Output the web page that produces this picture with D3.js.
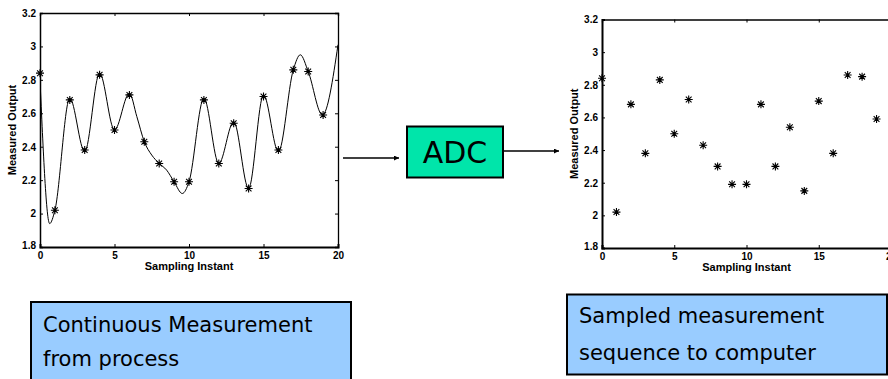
<!DOCTYPE html>
<html>
<head>
<meta charset="utf-8">
<script src="https://cdn.jsdelivr.net/npm/d3@7"></script>
<style>
  html, body { margin: 0; padding: 0; background: #fff; }
  svg { display: block; }
</style>
</head>
<body>
<svg id="fig" width="888" height="379"></svg>
<script>
// Sampled measurements, one per sampling instant
const sampleInstants = [0, 1, 2, 3, 4, 5, 6, 7, 8, 9, 10, 11, 12, 13, 14, 15, 16, 17, 18, 19];
const sampleValues = [2.84, 2.02, 2.68, 2.38, 2.83, 2.50, 2.71, 2.43, 2.30, 2.19,
                      2.19, 2.68, 2.30, 2.54, 2.15, 2.70, 2.38, 2.86, 2.85, 2.59];

// Continuous process output (knots of the smooth trace, incl. turning points)
const traceTimes = [0, 0.65, 1, 2, 3, 4, 5, 6, 6.5, 7, 7.5, 8, 8.5, 9, 9.55, 10,
                    11, 12, 13, 14, 15, 16, 17, 17.47, 18, 18.95, 20];
const traceValues = [2.80, 1.94, 2.02, 2.69, 2.37, 2.84, 2.50, 2.72, 2.58, 2.43, 2.35, 2.30, 2.26, 2.19, 2.12, 2.19,
                     2.69, 2.30, 2.55, 2.15, 2.71, 2.37, 2.86, 2.95, 2.85, 2.59, 3.01];

const xTicks = [0, 5, 10, 15, 20];
const yTicks = [1.8, 2, 2.2, 2.4, 2.6, 2.8, 3, 3.2];

const xLabel = "Sampling Instant";
const yLabel = "Measured Output";
const blockLabel = "ADC";
const leftCaption = ["Continuous Measurement", "from process"];
const rightCaption = ["Sampled measurement", "sequence to computer"];

const svg = d3.select("#fig");
const handFont = "'DejaVu Sans', sans-serif";
const axisFont = "'Liberation Sans', Arial, sans-serif";

// Asterisk marker (plus + cross)
function star(g, cx, cy, r) {
  const d = r * 0.72;
  const p = d3.path();
  p.moveTo(cx - r, cy); p.lineTo(cx + r, cy);
  p.moveTo(cx, cy - r); p.lineTo(cx, cy + r);
  p.moveTo(cx - d, cy - d); p.lineTo(cx + d, cy + d);
  p.moveTo(cx - d, cy + d); p.lineTo(cx + d, cy - d);
  g.append("path").attr("d", p.toString()).attr("stroke", "#000")
    .attr("stroke-width", 1.1).attr("fill", "none");
}

function panel(cfg) {
  const g = svg.append("g");
  const x = d3.scaleLinear().domain([0, 20]).range([cfg.x0, cfg.x1]);
  const y = d3.scaleLinear().domain([1.8, 3.2]).range([cfg.y1, cfg.y0]);

  const clip = "clip" + cfg.id;
  g.append("clipPath").attr("id", clip).append("rect")
    .attr("x", cfg.x0).attr("y", cfg.y0).attr("width", cfg.x1 - cfg.x0).attr("height", cfg.y1 - cfg.y0);

  // Ticks on all four sides, pointing inward
  const axB = d3.axisBottom(x).tickValues(xTicks).tickSize(-3).tickPadding(4).tickFormat(d3.format("d"));
  const axT = d3.axisTop(x).tickValues(xTicks).tickSize(-3).tickFormat("");
  const axL = d3.axisLeft(y).tickValues(yTicks).tickSize(-3).tickPadding(4).tickFormat(d => d3.format("")(+d.toFixed(1)));
  const axR = d3.axisRight(y).tickValues(yTicks).tickSize(-3).tickFormat("");

  const gb = g.append("g").attr("transform", `translate(0,${cfg.y1})`).call(axB);
  const gt = g.append("g").attr("transform", `translate(0,${cfg.y0})`).call(axT);
  const gl = g.append("g").attr("transform", `translate(${cfg.x0},0)`).call(axL);
  const gr = g.append("g").attr("transform", `translate(${cfg.x1},0)`).call(axR);

  [gb, gt, gl, gr].forEach(a => {
    a.selectAll(".tick line").attr("stroke", "#000").attr("stroke-width", 1);
    a.selectAll("text").attr("font-family", axisFont).attr("font-weight", "bold")
      .attr("font-size", 10).attr("fill", "#000");
  });
  gb.select(".domain").attr("stroke-width", cfg.bottomW).attr("stroke", "#000");
  gl.select(".domain").attr("stroke-width", cfg.leftW).attr("stroke", "#000");
  gt.select(".domain").attr("stroke-width", 1.3).attr("stroke", "#000");
  gr.select(".domain").attr("stroke-width", 1.3).attr("stroke", "#000");
  gb.selectAll(".tick text").attr("dy", "0.71em").attr("y", 5);
  gl.selectAll(".tick text").attr("x", -4).attr("dy", "0.34em");
  // y tick labels hug the axis at the bottom-left corner, as MATLAB does
  gl.selectAll(".tick").filter(d => d === 1.8).select("text").attr("dy", "0.1em");

  g.append("text").attr("x", (cfg.x0 + cfg.x1) / 2).attr("y", cfg.y1 + 23)
    .attr("text-anchor", "middle").attr("font-family", axisFont).attr("font-weight", "bold")
    .attr("font-size", 11).text(xLabel);
  g.append("text").attr("transform", `translate(${cfg.x0 - 24},${(cfg.y0 + cfg.y1) / 2}) rotate(-90)`)
    .attr("text-anchor", "middle").attr("font-family", axisFont).attr("font-weight", "bold")
    .attr("font-size", 11).text(yLabel);

  const plot = g.append("g").attr("clip-path", `url(#${clip})`);
  if (cfg.trace) {
    const line = d3.line().x((d, i) => x(traceTimes[i])).y(d => y(d)).curve(d3.curveMonotoneX);
    plot.append("path").attr("d", line(traceValues)).attr("fill", "none")
      .attr("stroke", "#000").attr("stroke-width", 1);
  }
  const mk = g.append("g");
  sampleInstants.forEach((t, i) => star(mk, x(t), y(sampleValues[i]), 4));
  return g;
}

panel({ id: "L", x0: 40, x1: 338, y0: 13, y1: 247, trace: true, bottomW: 2, leftW: 1.5 });
panel({ id: "R", x0: 602, x1: 891, y0: 19.5, y1: 248, trace: false, bottomW: 2.2, leftW: 2 });

// Arrows and converter block
const defs = svg.append("defs");
defs.append("marker").attr("id", "arrow").attr("viewBox", "0 0 10 10").attr("refX", 10).attr("refY", 5)
  .attr("markerWidth", 7).attr("markerHeight", 5).attr("markerUnits", "userSpaceOnUse").attr("orient", "auto")
  .append("path").attr("d", "M0,0L10,5L0,10Z").attr("fill", "#000");

svg.append("line").attr("x1", 343).attr("y1", 158).attr("x2", 399).attr("y2", 158)
  .attr("stroke", "#000").attr("stroke-width", 1.6).attr("marker-end", "url(#arrow)");
svg.append("line").attr("x1", 503).attr("y1", 151).attr("x2", 559).attr("y2", 151)
  .attr("stroke", "#000").attr("stroke-width", 1.6).attr("marker-end", "url(#arrow)");

svg.append("rect").attr("x", 407).attr("y", 126.5).attr("width", 96).attr("height", 51)
  .attr("fill", "#00E5AA").attr("stroke", "#000").attr("stroke-width", 2);
svg.append("text").attr("x", 455).attr("y", 163).attr("text-anchor", "middle")
  .attr("font-family", handFont).attr("font-size", 30).attr("fill", "#000").text(blockLabel);

// Caption boxes
function caption(x0, y0, w, h, lines, tx, ty, dy) {
  svg.append("rect").attr("x", x0).attr("y", y0).attr("width", w).attr("height", h)
    .attr("fill", "#99CCFF").attr("stroke", "#000").attr("stroke-width", 2);
  lines.forEach((s, i) => svg.append("text").attr("x", tx).attr("y", ty + i * dy)
    .attr("font-family", handFont).attr("font-size", 21).attr("fill", "#000").text(s));
}
caption(31, 302, 320, 90, leftCaption, 43, 332, 34);
caption(567, 294.5, 320, 80, rightCaption, 579, 323, 37);
</script>
</body>
</html>
